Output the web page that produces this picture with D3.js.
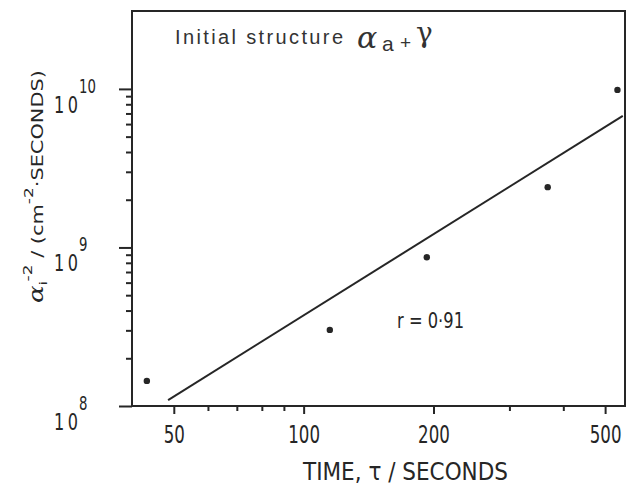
<!DOCTYPE html>
<html>
<head>
<meta charset="utf-8">
<script src="https://cdn.jsdelivr.net/npm/d3@7/dist/d3.min.js"></script>
<style>
  html, body { margin: 0; padding: 0; background: #fff; }
  svg { display: block; }
</style>
</head>
<body>
<script>
// Time (seconds) and alpha_i^-2 (cm^-2 s) for each measurement
const tau = [43.3, 115, 193, 368, 534];
const alphaInvSq = [1.44e8, 3.02e8, 8.67e8, 2.40e9, 9.86e9];

// End points of the fitted line
const fitTau = [48.5, 549.5];
const fitAlpha = [1.09e8, 6.76e9];

// Axis ticks
const timeTicksMajor = [50, 100, 200, 500];
const timeTicksMinor = [60, 70, 80, 90, 300, 400];
const rateTicksMajor = [1e8, 1e9, 1e10];
const rateExponents = ["8", "9", "10"];
const rateTicksMinor = [2e8, 3e8, 4e8, 5e8, 6e8, 7e8, 8e8, 9e8,
                        2e9, 3e9, 4e9, 5e9, 6e9, 7e9, 8e9, 9e9];

const timeDomain = [40, 556];
const rateDomain = [1e8, 3.1e10];

const W = 639, H = 487;
const plot = { left: 132, right: 625, top: 11, bottom: 406 };
const ink = "#262626";
const numFont = "DejaVu Sans";

const svg = d3.select("body").append("svg")
  .attr("width", W).attr("height", H)
  .attr("viewBox", `0 0 ${W} ${H}`);

const x = d3.scaleLog().domain(timeDomain).range([plot.left, plot.right]);
const y = d3.scaleLog().domain(rateDomain).range([plot.bottom, plot.top]);

// Frame
svg.append("rect")
  .attr("x", plot.left).attr("y", plot.top)
  .attr("width", plot.right - plot.left).attr("height", plot.bottom - plot.top)
  .attr("fill", "none").attr("stroke", ink).attr("stroke-width", 2);

function styleAxis(g) {
  g.select(".domain").remove();
  g.selectAll(".tick line").attr("stroke", ink).attr("stroke-width", 2);
}

// X axis: labelled major ticks and short minor ticks
svg.append("g")
  .attr("transform", `translate(0,${plot.bottom})`)
  .call(d3.axisBottom(x).tickValues(timeTicksMinor).tickSize(5).tickFormat(""))
  .call(styleAxis);

const xMajor = svg.append("g")
  .attr("transform", `translate(0,${plot.bottom})`)
  .call(d3.axisBottom(x).tickValues(timeTicksMajor).tickSize(8).tickFormat(d3.format("d")))
  .call(styleAxis);
xMajor.selectAll(".tick text")
  .attr("y", 37).attr("dy", null)
  .attr("fill", ink)
  .attr("font-family", numFont).attr("font-size", 24.5)
  .attr("transform", "scale(0.68,1)");

// Y axis
svg.append("g")
  .attr("transform", `translate(${plot.left},0)`)
  .call(d3.axisLeft(y).tickValues(rateTicksMinor).tickSize(6).tickFormat(""))
  .call(styleAxis);

svg.append("g")
  .attr("transform", `translate(${plot.left},0)`)
  .call(d3.axisLeft(y).tickValues(rateTicksMajor).tickSize(13).tickFormat(""))
  .call(styleAxis);

// Decade labels written as 10 with a raised exponent
const yLab = svg.append("g").selectAll("g")
  .data(rateTicksMajor)
  .join("g")
  .attr("transform", d => `translate(0,${y(d)})`);

yLab.append("text")
  .attr("transform", "translate(54,24) scale(0.7,1)")
  .attr("font-family", numFont).attr("font-size", 23)
  .attr("letter-spacing", 5)
  .attr("fill", ink)
  .text("10");

yLab.append("text")
  .attr("transform", "translate(79,4) scale(0.7,1)")
  .attr("font-family", numFont).attr("font-size", 19)
  .attr("fill", ink)
  .text((d, i) => rateExponents[i]);

// Fitted line
svg.append("path")
  .datum(fitTau.map((t, i) => [t, fitAlpha[i]]))
  .attr("d", d3.line().x(d => x(d[0])).y(d => y(d[1])))
  .attr("fill", "none").attr("stroke", ink).attr("stroke-width", 2);

// Measurements
svg.append("g").selectAll("circle")
  .data(tau.map((t, i) => [t, alphaInvSq[i]]))
  .join("circle")
  .attr("cx", d => x(d[0])).attr("cy", d => y(d[1]))
  .attr("r", 3.2).attr("fill", ink);

// Correlation coefficient
svg.append("text")
  .attr("x", 397).attr("y", 328)
  .attr("font-family", numFont).attr("font-size", 22)
  .attr("textLength", 67).attr("lengthAdjust", "spacingAndGlyphs")
  .attr("fill", ink)
  .text("r = 0·91");

// Heading inside the frame
svg.append("text")
  .attr("x", 175).attr("y", 44)
  .attr("font-family", "Liberation Sans").attr("font-size", 20)
  .attr("textLength", 168).attr("lengthAdjust", "spacing")
  .attr("fill", "#333")
  .text("Initial structure");

svg.append("text")
  .attr("x", 357).attr("y", 48)
  .attr("font-family", "DejaVu Serif").attr("font-style", "italic")
  .attr("font-size", 30).attr("fill", "#333")
  .text("α");
svg.append("text")
  .attr("x", 382).attr("y", 51)
  .attr("font-family", "Liberation Sans").attr("font-size", 21).attr("fill", "#333")
  .text("a");
svg.append("text")
  .attr("x", 400).attr("y", 49)
  .attr("font-family", "Liberation Sans").attr("font-size", 19).attr("fill", "#333")
  .text("+");
svg.append("text")
  .attr("x", 416).attr("y", 42)
  .attr("font-family", "DejaVu Serif").attr("font-size", 28).attr("fill", "#333")
  .text("γ");

// X axis title
svg.append("text")
  .attr("x", 303).attr("y", 480)
  .attr("font-family", numFont).attr("font-size", 24.5)
  .attr("textLength", 205).attr("lengthAdjust", "spacingAndGlyphs")
  .attr("fill", ink)
  .text("TIME, τ / SECONDS");

// Y axis title
const yTitle = svg.append("text")
  .attr("transform", "translate(43,303) rotate(-90)")
  .attr("font-family", numFont).attr("font-size", 16)
  .attr("textLength", 233).attr("lengthAdjust", "spacingAndGlyphs")
  .attr("fill", ink);
yTitle.append("tspan").attr("font-family", "DejaVu Serif").attr("font-style", "italic")
  .attr("font-size", 20).text("α");
yTitle.append("tspan").attr("font-size", 11).attr("dy", 4).text("i");
yTitle.append("tspan").attr("font-size", 13).attr("dy", -15).text("-2");
yTitle.append("tspan").attr("dy", 11).text(" / (cm");
yTitle.append("tspan").attr("font-size", 13).attr("dy", -10).text("-2");
yTitle.append("tspan").attr("dy", 10).text("·SECONDS)");
</script>
</body>
</html>
